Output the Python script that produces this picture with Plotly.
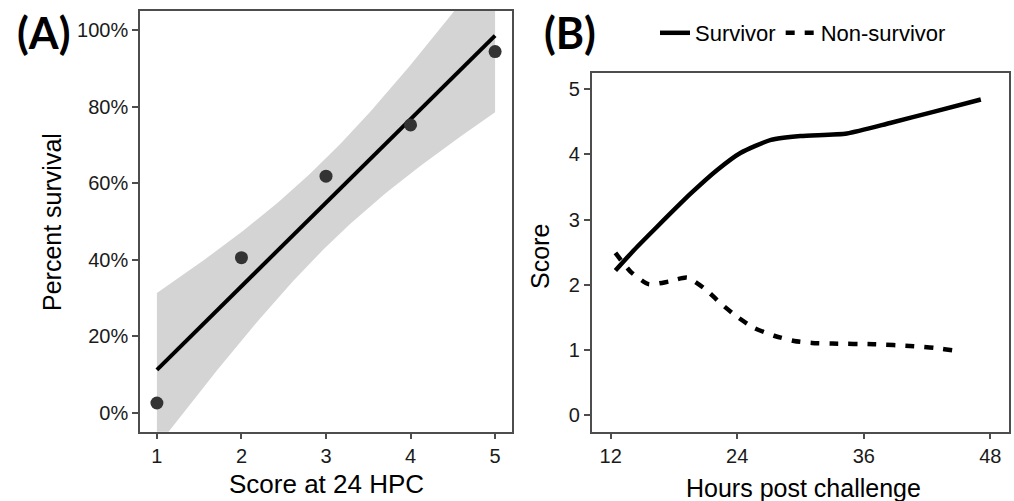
import numpy as np
import plotly.graph_objects as go

# ---------------- data ----------------
# Panel A: survival vs score at 24 HPC
score_24 = [1, 2, 3, 4, 5]
pct_survival = [0.025, 0.405, 0.618, 0.752, 0.944]
a_xticks = [1, 2, 3, 4, 5]
a_yticks = [0, 0.2, 0.4, 0.6, 0.8, 1.0]
a_yticklabels = ["0%", "20%", "40%", "60%", "80%", "100%"]

# Panel B: smoothed score over time
surv_hours = [12.45, 14.2, 16.4, 19.6, 22.1, 24.3, 27.2, 30.0, 34.4, 38.5, 42.6, 47.1]
surv_score = [2.22, 2.53, 2.89, 3.40, 3.76, 4.02, 4.22, 4.28, 4.32, 4.48, 4.65, 4.84]
non_hours = [12.45, 13.9, 15.6, 17.5, 19.25, 21.0, 22.4, 24.0, 25.6, 27.5, 29.4, 31.1,
             33.0, 36.95, 40.75, 42.65, 44.7, 45.2]
non_score = [2.49, 2.20, 2.01, 2.05, 2.11, 1.93, 1.72, 1.51, 1.34, 1.22, 1.14, 1.11,
             1.10, 1.09, 1.06, 1.035, 0.99, 0.98]
b_xticks = [12, 24, 36, 48]
b_yticks = [0, 1, 2, 3, 4, 5]

# ---------------- linear fit with 95% CI (as geom_smooth(method="lm")) ----------------
x = np.array(score_24, float)
y = np.array(pct_survival, float)
n = len(x)
slope, intercept = np.polyfit(x, y, 1)
resid = y - (intercept + slope * x)
s = np.sqrt(np.sum(resid ** 2) / (n - 2))
t975 = 3.182446305  # t quantile, df = 3
xs = np.linspace(x.min(), x.max(), 80)
fit = intercept + slope * xs
se = s * np.sqrt(1 / n + (xs - x.mean()) ** 2 / np.sum((x - x.mean()) ** 2))
upper = fit + t975 * se
lower = fit - t975 * se

FONT = "Liberation Sans, Arial, sans-serif"
AXCOL = "#4d4d4d"

fig = go.Figure()

# Panel A
fig.add_trace(go.Scatter(x=xs, y=lower, mode="lines", line=dict(width=0, color="#d4d4d4"),
                         showlegend=False, hoverinfo="skip", xaxis="x", yaxis="y"))
fig.add_trace(go.Scatter(x=xs, y=upper, mode="lines", line=dict(width=0, color="#d4d4d4"),
                         fill="tonexty", fillcolor="#d4d4d4",
                         showlegend=False, hoverinfo="skip", xaxis="x", yaxis="y"))
fig.add_trace(go.Scatter(x=xs, y=fit, mode="lines", line=dict(width=4, color="black"),
                         showlegend=False, xaxis="x", yaxis="y"))
fig.add_trace(go.Scatter(x=score_24, y=pct_survival, mode="markers",
                         marker=dict(size=13, color="#333333"),
                         showlegend=False, xaxis="x", yaxis="y"))

# Panel B
fig.add_trace(go.Scatter(x=surv_hours, y=surv_score, mode="lines", name="Survivor",
                         line=dict(width=4.5, color="black", shape="spline", smoothing=0.6),
                         xaxis="x2", yaxis="y2"))
fig.add_trace(go.Scatter(x=non_hours, y=non_score, mode="lines", name="Non-survivor",
                         line=dict(width=4.5, color="black", dash="9px,10px",
                                   shape="spline", smoothing=0.6),
                         xaxis="x2", yaxis="y2"))

W, H = 1014, 501
axis_common = dict(showline=True, linecolor=AXCOL, linewidth=1.5, mirror=True,
                   showgrid=False, zeroline=False, ticks="outside", ticklen=6,
                   tickwidth=1.5, tickcolor=AXCOL,
                   tickfont=dict(family=FONT, size=20, color="#1a1a1a"))

fig.update_layout(
    width=W, height=H,
    margin=dict(l=0, r=0, t=0, b=0),
    paper_bgcolor="white", plot_bgcolor="white",
    font=dict(family=FONT, color="black"),
    xaxis=dict(domain=[140 / W, 512 / W], range=[0.8, 5.2], tickvals=a_xticks,
               anchor="y", **axis_common),
    yaxis=dict(domain=[1 - 431.7 / H, 1 - 11 / H], range=[-0.05, 1.05],
               tickvals=a_yticks, ticktext=a_yticklabels, anchor="x", **axis_common),
    xaxis2=dict(domain=[591.7 / W, 1009.3 / W], range=[10.2, 49.8], tickvals=b_xticks,
                anchor="y2", **axis_common),
    yaxis2=dict(domain=[1 - 431.7 / H, 1 - 72.7 / H], range=[-0.25, 5.25],
                tickvals=b_yticks, anchor="x2", **axis_common),
    legend=dict(orientation="h", x=655 / W, y=1 - 33 / H, xanchor="left", yanchor="middle",
                traceorder="normal",
                font=dict(family=FONT, size=22, color="black"),
                bgcolor="rgba(0,0,0,0)", itemwidth=30, tracegroupgap=0),
    showlegend=True,
)

annots = [
    dict(text="<b>(A)</b>", x=43 / W, y=1 - 33 / H, font=dict(family="Lato, sans-serif", size=43)),
    dict(text="<b>(B)</b>", x=570 / W, y=1 - 33 / H, font=dict(family="Lato, sans-serif", size=43)),
    dict(text="Percent survival", x=52 / W, y=1 - 222 / H, textangle=-90,
         font=dict(family=FONT, size=25)),
    dict(text="Score at 24 HPC", x=326.5 / W, y=1 - 484 / H, font=dict(family=FONT, size=26)),
    dict(text="Score", x=540 / W, y=1 - 257 / H, textangle=-90, font=dict(family=FONT, size=25)),
    dict(text="Hours post challenge", x=803 / W, y=1 - 488 / H, font=dict(family=FONT, size=25)),
]
for a in annots:
    fig.add_annotation(xref="paper", yref="paper", showarrow=False,
                       xanchor="center", yanchor="middle", **a)

fig.write_html("out.html")
